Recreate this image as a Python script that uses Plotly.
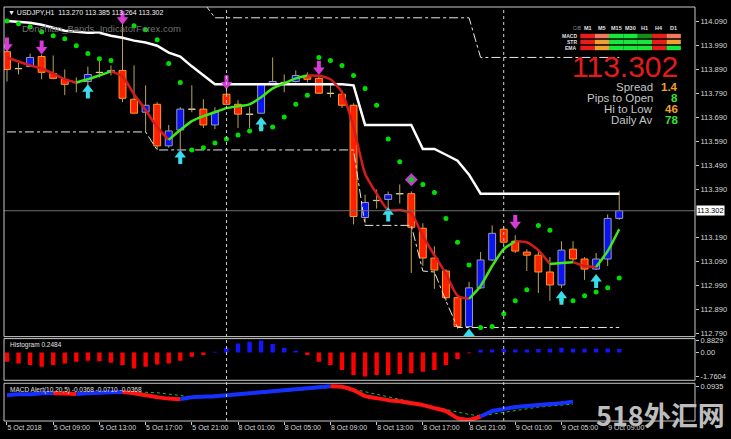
import plotly.graph_objects as go

# ---------------- data ----------------
bar_index = list(range(54))
time_tick_bars = [0, 4, 8, 12, 16, 20, 24, 28, 32, 36, 40, 44, 48, 52]
time_tick_labels = ["5 Oct 2018", "5 Oct 09:00", "5 Oct 13:00", "5 Oct 17:00", "5 Oct 21:00",
                    "8 Oct 01:00", "8 Oct 05:00", "8 Oct 09:00", "8 Oct 13:00", "8 Oct 17:00",
                    "8 Oct 21:00", "9 Oct 01:00", "9 Oct 05:00", "9 Oct 09:00"]
day_separator_bars = [19, 43]
price_ticks = [114.090, 113.990, 113.890, 113.790, 113.690, 113.590, 113.490, 113.390,
               113.190, 113.090, 112.990, 112.890, 112.790]
last_price = 113.302

opens = [113.964, 113.894, 113.902, 113.944, 113.873, 113.849, 113.836, 113.840, 113.878, 113.878,
         113.886, 113.766, 113.712, 113.745, 113.572, 113.638, 113.725, 113.725, 113.659, 113.787,
         113.745, 113.704, 113.708, 113.828, 113.836, 113.840, 113.865, 113.853, 113.791, 113.787,
         113.741, 113.274, 113.345, 113.349, 113.373, 113.373, 113.229, 113.105, 113.051, 112.940,
         112.820, 112.981, 113.097, 113.225, 113.175, 113.130, 113.117, 113.047, 112.993, 113.142,
         113.101, 113.059, 113.101, 113.270]
highs = [113.977, 113.919, 113.956, 113.952, 113.948, 113.890, 113.857, 113.902, 113.935, 113.907,
         114.084, 113.907, 113.824, 113.754, 113.659, 113.733, 113.824, 113.766, 113.733, 113.824,
         113.762, 113.733, 113.828, 113.940, 113.869, 113.886, 113.878, 113.865, 113.824, 113.803,
         113.749, 113.369, 113.390, 113.382, 113.411, 113.382, 113.250, 113.154, 113.059, 112.956,
         113.006, 113.130, 113.241, 113.237, 113.200, 113.142, 113.134, 113.109, 113.175, 113.175,
         113.109, 113.126, 113.287, 113.385]
lows = [113.840, 113.869, 113.902, 113.849, 113.849, 113.783, 113.795, 113.824, 113.857, 113.865,
        113.754, 113.708, 113.630, 113.555, 113.564, 113.559, 113.712, 113.646, 113.642, 113.741,
        113.646, 113.646, 113.708, 113.828, 113.795, 113.836, 113.836, 113.795, 113.774, 113.729,
        113.245, 113.250, 113.311, 113.311, 113.332, 113.043, 113.072, 112.977, 112.927, 112.811,
        112.816, 112.977, 113.092, 113.163, 113.126, 113.051, 112.960, 112.927, 112.981, 113.084,
        113.014, 113.055, 113.072, 113.264]
closes = [113.890, 113.893, 113.940, 113.878, 113.853, 113.828, 113.835, 113.869, 113.877, 113.886,
          113.770, 113.708, 113.741, 113.572, 113.634, 113.725, 113.724, 113.659, 113.712, 113.745,
          113.704, 113.703, 113.828, 113.840, 113.835, 113.865, 113.849, 113.791, 113.790, 113.741,
          113.278, 113.336, 113.344, 113.369, 113.372, 113.233, 113.105, 113.055, 112.940, 112.820,
          112.981, 113.097, 113.208, 113.171, 113.134, 113.117, 113.047, 112.993, 113.138, 113.101,
          113.059, 113.101, 113.270, 113.302]

ma_line = [113.940, 113.923, 113.907, 113.894, 113.873, 113.849, 113.836, 113.849, 113.865, 113.882,
           113.861, 113.787, 113.721, 113.650, 113.597, 113.638, 113.675, 113.696, 113.712, 113.729,
           113.737, 113.745, 113.774, 113.811, 113.832, 113.853, 113.865, 113.864, 113.849, 113.795,
           113.650, 113.456, 113.373, 113.305, 113.305, 113.291, 113.196, 113.117, 113.039, 112.948,
           112.935, 112.989, 113.072, 113.142, 113.175, 113.171, 113.138, 113.080, 113.084, 113.088,
           113.072, 113.068, 113.134, 113.225]

sar = [114.092, 114.080, 114.068, 114.047, 114.030, 114.018, 113.989, 113.956, 113.935, 113.927,
       None, 114.072, 114.055, 114.014, 113.915, 113.836, 113.555, 113.564, 113.584, 113.601,
       113.617, 113.634, 113.646, 113.650, 113.692, 113.745, 113.783, 113.940, 113.927, 113.907,
       113.865, 113.811, 113.741, 113.601, 113.506, 113.431, 113.411, 113.378, 113.270, 113.171,
       113.076, 112.816, 112.820, 112.873, 112.927, 112.973, 113.241, 113.221, 112.931, 112.927,
       112.948, 112.964, 112.981, 113.022]

donchian_upper = [114.092, 114.088, 114.084, 114.076, 114.064, 114.051, 114.047, 114.043, 114.043, 114.030,
                  114.022, 114.010, 114.002, 113.989, 113.960, 113.944, 113.903, 113.865, 113.828, 113.828,
                  113.828, 113.828, 113.828, 113.828, 113.828, 113.828, 113.828, 113.828, 113.828, 113.828,
                  113.824, 113.659, 113.659, 113.659, 113.659, 113.659, 113.559, 113.559, 113.535, 113.510,
                  113.452, 113.373, 113.373, 113.373, 113.373, 113.373, 113.373, 113.373, 113.373, 113.373,
                  113.373, 113.373, 113.373, 113.373]
donchian_lower = [113.630] * 13 + [113.555] * 18 + [113.241] * 5 + [113.051, 113.047, 112.927] + [112.816] * 15
prev_range_high = [114.170] * 18 + [114.105] * 23 + [113.940] * 13

down_arrow_bars = [0, 3, 10, 19, 27, 44]
down_arrow_prices = [113.993, 113.981, 114.105, 113.836, 113.896, 113.254]
up_arrow_bars = [7, 15, 22, 33, 40, 48, 51]
up_arrow_prices = [113.799, 113.526, 113.663, 113.287, 112.783, 112.940, 113.010]
diamond_bars = [35]
diamond_prices = [113.431]

histogram = [-0.67, -0.80, -0.92, -1.04, -0.92, -0.80, -0.67, -0.60, -0.63, -0.75,
             -0.92, -1.16, -1.04, -0.87, -0.80, -0.60, -0.31, -0.19, 0.05, 0.35,
             0.65, 0.78, 0.88, 0.62, 0.35, 0.12, -0.19, -0.67, -0.92, -1.28,
             -1.64, -1.76, -1.64, -1.64, -1.57, -1.52, -1.40, -1.28, -0.92, -0.48,
             -0.05, 0.20, 0.22, 0.25, 0.22, 0.22, 0.25, 0.28, 0.35, 0.28,
             0.28, 0.28, 0.30, 0.25]
hist_ticks = [0.8829, 0.0, -1.7604]
hist_tick_labels = ["0.8829", "0.00", "-1.7604"]

macd_main = [0.020, 0.028, 0.0285, 0.0365, 0.037, 0.034, 0.030, 0.035, 0.0405, 0.0446,
             0.046, 0.0365, 0.020, 0.004, -0.008, -0.0125, 0.004, 0.008, 0.012, 0.020,
             0.028, 0.0365, 0.0446, 0.0528, 0.0609, 0.0691, 0.0772, 0.0854, 0.0935, 0.0894,
             0.0609, 0.012, -0.0043, -0.0206, -0.0288, -0.0451, -0.0614, -0.0858, -0.1103, -0.1674,
             -0.1836, -0.155, -0.1103, -0.094, -0.0777, -0.0695, -0.0614, -0.0532, -0.0451, -0.0329]
macd_signal = [0.015, 0.020, 0.024, 0.028, 0.032, 0.035, 0.034, 0.034, 0.036, 0.039,
               0.042, 0.046, 0.044, 0.040, 0.030, 0.018, 0.003, 0.004, 0.007, 0.013,
               0.020, 0.028, 0.036, 0.044, 0.052, 0.060, 0.068, 0.076, 0.084, 0.092,
               0.0691, 0.048, 0.0275, 0.0063, -0.0141, -0.0353, -0.056, -0.077, -0.0972, -0.1184,
               -0.1388, -0.150, -0.135, -0.118, -0.102, -0.090, -0.0777, -0.0695, -0.0614, -0.0532]
macd_ticks = [0.0935]
macd_tick_labels = ["0.0935"]

panel_timeframes = ["M1", "M5", "M15", "M30", "H1", "H4", "D1"]
panel_rows = ["MACD", "STR", "EMA"]
panel_states = [["red", "salmon", "green", "green", "dkgreen", "red", "salmon"],
                ["red", "orange", "green", "green", "green", "red", "orange"],
                ["red", "orange", "green", "green", "green", "red", "green"]]
info_labels = ["Spread", "Pips to Open", "Hi to Low", "Daily Av"]
info_values = ["1.4", "8", "46", "78"]
info_kinds = ["orange", "green", "orange", "green"]

title_text = "▼ USDJPY,H1  113.270 113.385 113.264 113.302"
hist_title = "Histogram 0.2484"
macd_title = "MACD Alert(10,20,5) -0.0368 -0.0710 -0.0368"

# ---------------- geometry helpers (layout only) ----------------
L, T, W, H = 4, 4, 693, 417
def px(x):
    return (x - L) / W
def py(y):
    return (T + H - y) / H
PX_PER_PRICE = 242.0

FONT = "Liberation Sans"
fig = go.Figure()

# ---------------- candles ----------------
wx, wy = [], []
for i, (o, h, l, c) in enumerate(zip(opens, highs, lows, closes)):
    top, bot = max(o, c), min(o, c)
    wx += [i, i, None, i, i, None]
    wy += [h, top, None, bot, l, None]
fig.add_trace(go.Scatter(x=wx, y=wy, mode="lines", line=dict(color="#b9a45c", width=1),
                         xaxis="x", yaxis="y", hoverinfo="skip"))

styles = {"bull": ("#0a14f0", "#9a9ab8"), "bear": ("#ff2000", "#ff9a22"), "doji": ("#000000", "#d8cfa8")}
groups = {k: ([], [], []) for k in styles}
for i, (o, c) in enumerate(zip(opens, closes)):
    kind = "doji" if abs(c - o) < 0.0025 else ("bull" if c > o else "bear")
    groups[kind][0].append(i)
    groups[kind][1].append(max(abs(c - o), 0.0012))
    groups[kind][2].append(min(o, c))
for kind, (xs, hs, bs) in groups.items():
    fill, edge = styles[kind]
    fig.add_trace(go.Bar(x=xs, y=hs, base=bs, width=0.6, xaxis="x", yaxis="y",
                         marker=dict(color=fill, line=dict(color=edge, width=1)), hoverinfo="skip"))

# ---------------- bands ----------------
fig.add_trace(go.Scatter(x=bar_index, y=prev_range_high, mode="lines", xaxis="x", yaxis="y",
                         line=dict(color="#e8e8e8", width=1, dash="dashdot"), hoverinfo="skip"))
fig.add_trace(go.Scatter(x=bar_index, y=donchian_lower, mode="lines", xaxis="x", yaxis="y",
                         line=dict(color="#e8e8e8", width=1, dash="dashdot"), hoverinfo="skip"))
fig.add_trace(go.Scatter(x=bar_index, y=donchian_upper, mode="lines", xaxis="x", yaxis="y",
                         line=dict(color="#ffffff", width=2.5), hoverinfo="skip"))


def color_runs(n, state):
    runs = []
    start, cur = 0, state[1]
    for i in range(2, n):
        if state[i] != cur:
            runs.append((start, i - 1, cur))
            start, cur = i - 1, state[i]
    runs.append((start, n - 1, cur))
    return runs

# moving average coloured by slope
ma_state = [None, ma_line[1] > ma_line[0]]
for i in range(2, len(ma_line)):
    if ma_line[i] == ma_line[i - 1]:
        ma_state.append(ma_state[-1])
    else:
        ma_state.append(ma_line[i] > ma_line[i - 1])
for s, e, up in color_runs(len(ma_line), ma_state):
    fig.add_trace(go.Scatter(x=bar_index[s:e + 1], y=ma_line[s:e + 1], mode="lines", xaxis="x", yaxis="y",
                             line=dict(color="#3ee81e" if up else "#d41c1c", width=2.5, shape="spline",
                                       smoothing=0.6), hoverinfo="skip"))

# parabolic SAR
fig.add_trace(go.Scatter(x=bar_index, y=sar, mode="markers", xaxis="x", yaxis="y",
                         marker=dict(color="#00e000", size=5), hoverinfo="skip"))

# arrows
off = 1.0 / PX_PER_PRICE
fig.add_trace(go.Scatter(x=down_arrow_bars, y=[p + 3 * off for p in down_arrow_prices], mode="markers",
                         xaxis="x", yaxis="y", hoverinfo="skip",
                         marker=dict(symbol="line-ns", size=6, line=dict(color="#d83ad8", width=4))))
fig.add_trace(go.Scatter(x=down_arrow_bars, y=[p - 2 * off for p in down_arrow_prices], mode="markers",
                         xaxis="x", yaxis="y", hoverinfo="skip",
                         marker=dict(symbol="triangle-down", size=10, color="#d83ad8")))
fig.add_trace(go.Scatter(x=up_arrow_bars, y=[p - 3 * off for p in up_arrow_prices], mode="markers",
                         xaxis="x", yaxis="y", hoverinfo="skip",
                         marker=dict(symbol="line-ns", size=6, line=dict(color="#38dcec", width=4))))
fig.add_trace(go.Scatter(x=up_arrow_bars, y=[p + 2 * off for p in up_arrow_prices], mode="markers",
                         xaxis="x", yaxis="y", hoverinfo="skip",
                         marker=dict(symbol="triangle-up", size=10, color="#38dcec")))
fig.add_trace(go.Scatter(x=diamond_bars, y=diamond_prices, mode="markers", xaxis="x", yaxis="y",
                         hoverinfo="skip", marker=dict(symbol="diamond", size=10, color="#c040d0")))
fig.add_trace(go.Scatter(x=diamond_bars, y=diamond_prices, mode="markers", xaxis="x", yaxis="y",
                         hoverinfo="skip", marker=dict(size=5, color="#00e000")))

# ---------------- histogram panel ----------------
fig.add_trace(go.Bar(x=bar_index, y=histogram, width=0.38, xaxis="x", yaxis="y2", hoverinfo="skip",
                     marker=dict(color=["#1414ff" if v > 0 else "#ff0000" for v in histogram], line=dict(width=0))))

# ---------------- MACD panel ----------------
mi = list(range(len(macd_main)))
fig.add_trace(go.Scatter(x=mi, y=macd_signal, mode="lines", xaxis="x", yaxis="y3", hoverinfo="skip",
                         line=dict(color="#2ab82a", width=1, dash="dot")))
macd_state = [None] + [m > s for m, s in zip(macd_main[1:], macd_signal[1:])]
for s, e, up in color_runs(len(macd_main), macd_state):
    fig.add_trace(go.Scatter(x=mi[s:e + 1], y=macd_main[s:e + 1], mode="lines", xaxis="x", yaxis="y3",
                             hoverinfo="skip",
                             line=dict(color="#1630ff" if up else "#ff1414", width=4, shape="spline",
                                       smoothing=0.5)))

# ---------------- shapes ----------------
shapes = []
shapes.append(dict(type="line", xref="paper", yref="y", x0=0, x1=1, y0=last_price, y1=last_price,
                   line=dict(color="#6e6e6e", width=1)))
for b in day_separator_bars:
    shapes.append(dict(type="line", xref="x", yref="paper", x0=b, x1=b, y0=0, y1=1,
                       line=dict(color="#d0d0d0", width=1, dash="dot")))
for (y0, y1) in [(py(336), 1.0), (py(380), py(338)), (0.0, py(383))]:
    shapes.append(dict(type="rect", xref="paper", yref="paper", x0=0, x1=1, y0=y0, y1=y1,
                       line=dict(color="#c8c8c8", width=1)))

state_colors = {"red": "#e81c1c", "salmon": "#f07a64", "orange": "#f0a030",
                "green": "#18e83c", "dkgreen": "#1a8a1a"}
col_w = 14.4
for r, row in enumerate(panel_states):
    ytop = 31 + r * 6
    for c, st in enumerate(row):
        shapes.append(dict(type="rect", xref="paper", yref="paper",
                           x0=px(582 + c * col_w), x1=px(582 + (c + 1) * col_w),
                           y0=py(ytop + 4.5), y1=py(ytop), fillcolor=state_colors[st],
                           line=dict(width=0)))

# ---------------- annotations ----------------
ann = []
def text(x, y, s, size, color, xanchor="left", family=FONT, bold=False, **kw):
    ann.append(dict(x=px(x), y=py(y), xref="paper", yref="paper", text=("<b>%s</b>" % s) if bold else s,
                    showarrow=False, xanchor=xanchor, yanchor="middle",
                    font=dict(size=size, color=color, family=family), **kw))

text(6, 10, title_text, 7, "#f0f0f0")
text(20, 26, "Donchian_Bands_IndicatorForex.com", 9.5, "#707070")
text(8, 344, hist_title, 6.5, "#e0e0e0")
text(8, 390, macd_title, 6.5, "#e0e0e0")

text(573, 25, "CiB", 5, "#8a8a8a")
for c, tf in enumerate(panel_timeframes):
    text(582 + (c + 0.5) * col_w, 25, tf, 5.5, "#e0e0e0", xanchor="center", bold=True)
for r, name in enumerate(panel_rows):
    text(581, 33.2 + r * 6, name, 5, "#e0e0e0", xanchor="right", bold=True)

text(627, 64, "113.302", 30, "#e21b1b", xanchor="center")
info_col = {"orange": "#f0a030", "green": "#36e036"}
for k, (lab, val, kind) in enumerate(zip(info_labels, info_values, info_kinds)):
    yy = 84.5 + k * 11
    text(657, yy, lab, 11.5, "#c4c4c4", xanchor="right")
    text(682, yy, val, 11.5, info_col[kind], xanchor="right", bold=True)

ann.append(dict(x=px(698), y=last_price, xref="paper", yref="y", text="113.302", showarrow=False,
                xanchor="left", yanchor="middle", bgcolor="#ffffff", borderpad=0,
                font=dict(size=7.5, color="#000000", family=FONT)))
text(662, 414, "518外汇网", 27, "#bdbdbd", xanchor="center", family="Noto Sans CJK SC", bold=True)

# ---------------- layout ----------------
axis_font = dict(size=7.5, color="#d8d8d8", family=FONT)
fig.update_layout(
    width=731, height=439,
    margin=dict(l=L, r=731 - L - W, t=T, b=439 - T - H),
    paper_bgcolor="#000000", plot_bgcolor="#000000",
    showlegend=False, barmode="overlay", hovermode=False,
    font=dict(family=FONT, color="#d8d8d8"),
    xaxis=dict(domain=[0, 1], range=[-0.259, 59.56], anchor="y3", showgrid=False, zeroline=False,
               tickmode="array", tickvals=time_tick_bars, ticktext=time_tick_labels,
               ticks="outside", ticklen=3, tickcolor="#c8c8c8", tickfont=dict(size=7, color="#d8d8d8", family=FONT),
               ticklabelposition="outside right", showline=False),
    yaxis=dict(domain=[py(336), 1.0], range=[112.778, 114.150], side="right", anchor="x",
               showgrid=False, zeroline=False, tickmode="array", tickvals=price_ticks,
               ticktext=["%.3f" % v for v in price_ticks], ticks="outside", ticklen=3,
               tickcolor="#c8c8c8", tickfont=axis_font),
    yaxis2=dict(domain=[py(380), py(338)], range=[-2.029, 1.014], side="right", anchor="x",
                showgrid=False, zeroline=False, tickmode="array", tickvals=hist_ticks,
                ticktext=hist_tick_labels, ticks="outside", ticklen=3, tickcolor="#c8c8c8", tickfont=axis_font),
    yaxis3=dict(domain=[0, py(383)], range=[-0.192, 0.118], side="right", anchor="x",
                showgrid=False, zeroline=False, tickmode="array", tickvals=macd_ticks,
                ticktext=macd_tick_labels, ticks="outside", ticklen=3, tickcolor="#c8c8c8", tickfont=axis_font),
    shapes=shapes,
    annotations=ann,
)

fig.write_html("out.html", config={"displayModeBar": False, "staticPlot": True},
               post_script="document.body.style.margin='0';document.body.style.background='#000';")
